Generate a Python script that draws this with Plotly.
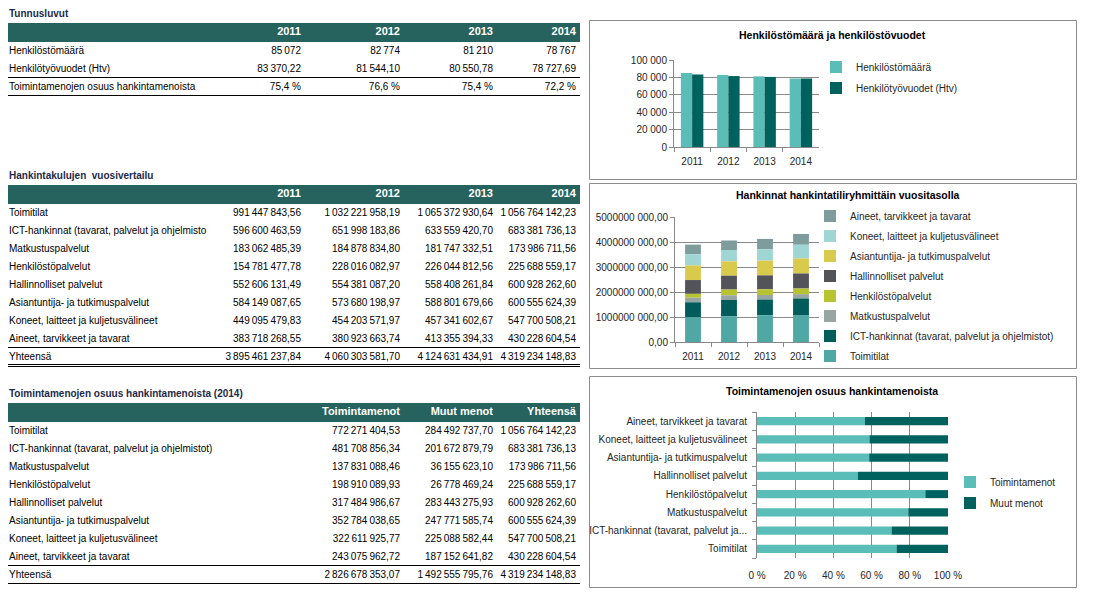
import plotly.graph_objects as go

W, H = 1107, 604
OFF = 8  # the page body offsets the figure by 8 px; layout below is in screen pixels
FONT = "Liberation Sans"
NB = "\u00a0"
TS = "\u2009"  # thin space used as thousands separator

# ---------------- data ----------------
years = ["2011", "2012", "2013", "2014"]

henkilostomaara = [85072, 82774, 81210, 78767]
henkilotyovuodet = [83370.22, 81544.10, 80550.78, 78727.69]
toimintamenojen_osuus_pct = [75.4, 76.6, 75.4, 72.2]
tunnus_labels = ["Henkilöstömäärä", "Henkilötyövuodet (Htv)",
                 "Toimintamenojen osuus hankintamenoista"]

categories = [
    "Toimitilat",
    "ICT-hankinnat (tavarat, palvelut ja ohjelmistot)",
    "Matkustuspalvelut",
    "Henkilöstöpalvelut",
    "Hallinnolliset palvelut",
    "Asiantuntija- ja tutkimuspalvelut",
    "Koneet, laitteet ja kuljetusvälineet",
    "Aineet, tarvikkeet ja tavarat",
]
costs_2011 = [991447843.56, 596600463.59, 183062485.39, 154781477.78,
              552606131.49, 584149087.65, 449095479.83, 383718268.55]
costs_2012 = [1032221958.19, 651998183.86, 184878834.80, 228016082.97,
              554381087.20, 573680198.97, 454203571.97, 380923663.74]
costs_2013 = [1065372930.64, 633559420.70, 181747332.51, 226044812.56,
              558408261.84, 588801679.66, 457341602.67, 413355394.33]
costs_2014 = [1056764142.23, 683381736.13, 173986711.56, 225688559.17,
              600928262.60, 600555624.39, 547700508.21, 430228604.54]

toimintamenot_2014 = [772271404.53, 481708856.34, 137831088.46, 198910089.93,
                      317484986.67, 352784038.65, 322611925.77, 243075962.72]
muut_menot_2014 = [284492737.70, 201672879.79, 36155623.10, 26778469.24,
                   283443275.93, 247771585.74, 225088582.44, 187152641.82]

total_label = "Yhteensä"
share_names = ["Toimintamenot", "Muut menot"]
table_titles = ["Tunnusluvut", "Hankintakulujen" + NB + " vuosivertailu",
                "Toimintamenojen osuus hankintamenoista (2014)"]
chart_titles = ["Henkilöstömäärä ja henkilöstövuodet",
                "Hankinnat hankintatiliryhmittäin vuositasolla",
                "Toimintamenojen osuus hankintamenoista"]

# ---------------- styles ----------------
HEAD = "#27635e"
TITLE_C = "#1c2a4a"
TXT = "#262626"
GRID = "#898989"
C_LIGHT = "#5bbdb7"
C_DARK = "#00625f"
chart2_colors = ["#4fa8a4", "#005c5a", "#97a5a3", "#b8c332",
                 "#535459", "#d9c94c", "#9fd5d2", "#7f9c9c"]


def X(px):
    return (px - OFF) / W


def Y(py):
    return 1 - (py - OFF) / H


def group(int_str, sep=TS):
    parts = []
    s = int_str
    while len(s) > 3:
        parts.insert(0, s[-3:])
        s = s[:-3]
    parts.insert(0, s)
    return sep.join(parts)


def fmt(v, dec=2, sep=TS):
    s = f"{v:.{dec}f}"
    if dec:
        ip, fp = s.split(".")
        return group(ip, sep) + "," + fp
    return group(s, sep)


fig = go.Figure()

# ---------------- tables (text on a hidden screen-pixel axis pair x4/y4) ----------------
HEADER_H, ROW_H = 19, 18
LEFT, RIGHT = 3, 580
LABEL_X = 9
shapes = []
cell_font = dict(family=FONT, size=10, color="black")
head_font = dict(family=FONT, size=11, color="white", weight="bold")


def add_table(title, top, col_right, header_vals, cols, labels, rules):
    fig.add_trace(go.Scatter(x=[LABEL_X], y=[top - 9], mode="text", text=[title],
                             textposition="middle right", xaxis="x4", yaxis="y4",
                             textfont=dict(family=FONT, size=10, color=TITLE_C, weight="bold"),
                             showlegend=False, hoverinfo="skip"))
    shapes.append(dict(type="rect", xref="x4", yref="y4", x0=LEFT, x1=RIGHT, y0=top,
                       y1=top + HEADER_H, fillcolor=HEAD, line=dict(width=0), layer="below"))
    fig.add_trace(go.Scatter(x=col_right, y=[top + HEADER_H / 2] * len(col_right),
                             mode="text", text=header_vals, textposition="middle left",
                             xaxis="x4", yaxis="y4", textfont=head_font,
                             showlegend=False, hoverinfo="skip"))
    rows_y = [top + HEADER_H + ROW_H * i + ROW_H / 2 for i in range(len(labels))]
    fig.add_trace(go.Scatter(x=[LABEL_X] * len(labels), y=rows_y, mode="text", text=labels,
                             textposition="middle right", xaxis="x4", yaxis="y4",
                             textfont=cell_font, showlegend=False, hoverinfo="skip"))
    for xr, col in zip(col_right, cols):
        fig.add_trace(go.Scatter(x=[xr] * len(col), y=rows_y, mode="text", text=col,
                                 textposition="middle left", xaxis="x4", yaxis="y4",
                                 textfont=cell_font, showlegend=False, hoverinfo="skip"))
    for r, dy in rules:
        yy = top + HEADER_H + ROW_H * r + dy
        shapes.append(dict(type="line", xref="x4", yref="y4", x0=LEFT, x1=RIGHT,
                           y0=yy, y1=yy, line=dict(color="black", width=1)))


# Table 1: Tunnusluvut
t1_cols = []
for j in range(4):
    t1_cols.append([fmt(henkilostomaara[j], 0), fmt(henkilotyovuodet[j]),
                    f"{toimintamenojen_osuus_pct[j]:.1f}".replace(".", ",") + NB + "%"])
add_table(table_titles[0], 23, [301, 400, 493, 576], years, t1_cols, tunnus_labels,
          [(2, -0.5), (3, -0.5)])

# Table 2: Hankintakulujen vuosivertailu
by_year = [costs_2011, costs_2012, costs_2013, costs_2014]
t2_cols = [[fmt(v) for v in yv] + [fmt(sum(yv))] for yv in by_year]
t2_labels = [c[:46] for c in categories] + [total_label]
add_table(table_titles[1], 185, [301, 400, 493, 576], years, t2_cols, t2_labels,
          [(8, -0.5), (9, -1.5), (9, 0.5)])

# Table 3: Toimintamenojen osuus (2014)
yht_2014 = [a + b for a, b in zip(toimintamenot_2014, muut_menot_2014)]
t3_cols = [[fmt(v) for v in toimintamenot_2014] + [fmt(sum(toimintamenot_2014))],
           [fmt(v) for v in muut_menot_2014] + [fmt(sum(muut_menot_2014))],
           [fmt(v) for v in yht_2014] + [fmt(sum(yht_2014))]]
add_table(table_titles[2], 403, [400, 493, 576], [share_names[0], share_names[1], total_label],
          t3_cols, categories + [total_label], [(8, -0.5), (9, -0.5)])

# ---------------- Chart 1 ----------------
fig.add_trace(go.Bar(x=years, y=henkilostomaara, name=tunnus_labels[0],
                     marker=dict(color=C_LIGHT, line=dict(width=0)), offset=-0.31, width=0.31,
                     xaxis="x", yaxis="y", legend="legend", legendgroup="g1a"))
fig.add_trace(go.Bar(x=years, y=henkilotyovuodet, name=tunnus_labels[1],
                     marker=dict(color=C_DARK, line=dict(width=0)), offset=0.0, width=0.31,
                     xaxis="x", yaxis="y", legend="legend", legendgroup="g1b"))

# ---------------- Chart 2 (stacked via explicit base; added top-down for legend order) ----------------
bases = []
base = [0.0] * 4
for i in range(len(categories)):
    vals = [yv[i] for yv in by_year]
    bases.append(list(base))
    base = [b + v for b, v in zip(base, vals)]
for i in reversed(range(len(categories))):
    vals = [yv[i] for yv in by_year]
    fig.add_trace(go.Bar(x=years, y=vals, base=bases[i], name=categories[i],
                         marker=dict(color=chart2_colors[i], line=dict(width=0)),
                         offset=-0.22, width=0.44, xaxis="x2", yaxis="y2",
                         legend="legend2", legendgroup=f"g2_{i}"))

# ---------------- Chart 3 ----------------
share_t = [t / s for t, s in zip(toimintamenot_2014, yht_2014)]
share_m = [m / s for m, s in zip(muut_menot_2014, yht_2014)]
fig.add_trace(go.Bar(y=categories, x=share_t, orientation="h", name=share_names[0],
                     marker=dict(color=C_LIGHT, line=dict(width=0)), offset=-0.22, width=0.44,
                     xaxis="x3", yaxis="y3", legend="legend3", legendgroup="g3a"))
fig.add_trace(go.Bar(y=categories, x=share_m, base=share_t, orientation="h", name=share_names[1],
                     marker=dict(color=C_DARK, line=dict(width=0)), offset=-0.22, width=0.44,
                     xaxis="x3", yaxis="y3", legend="legend3", legendgroup="g3b"))

tickfont = dict(family=FONT, size=10, color=TXT)

y1_vals = [0, 20000, 40000, 60000, 80000, 100000]
y2_vals = [0, 1e9, 2e9, 3e9, 4e9, 5e9]
x3_vals = [0, 0.2, 0.4, 0.6, 0.8, 1.0]


def excel_axis(v):
    v = int(v)
    return "0,00" if v == 0 else f"{v // 1000}{NB}{v % 1000:03d},00"


short_cats = [c if len(c) <= 38 else c[:35] + "..." for c in categories]

cat_x = dict(type="category", showline=True, linecolor=GRID, ticks="outside",
             tickson="boundaries", ticklen=4, tickcolor=GRID, showgrid=False,
             ticklabelstandoff=5, tickfont=tickfont, fixedrange=True, automargin=False)
val_y = dict(showline=True, linecolor=GRID, ticks="outside", ticklen=4, tickcolor=GRID,
             showgrid=True, gridcolor=GRID, gridwidth=1, zeroline=False,
             tickfont=tickfont, fixedrange=True, automargin=False)

legend_common = dict(xanchor="left", yanchor="top", bgcolor="rgba(0,0,0,0)",
                     font=dict(family=FONT, size=10, color=TXT), borderwidth=0)

# chart frames
for top, bot in [(20, 179), (183, 368), (376, 587)]:
    shapes.append(dict(type="rect", xref="x4", yref="y4", x0=589.5, x1=1076.5,
                       y0=top + 0.5, y1=bot + 0.5, line=dict(color="#8c8c8c", width=1)))

annotations = []
for txt, x, y in zip(chart_titles, [832, 848, 831.5], [35, 195, 391]):
    annotations.append(dict(text=txt, xref="x4", yref="y4", x=x, y=y,
                            xanchor="center", yanchor="middle", showarrow=False,
                            font=dict(family=FONT, size=10.5, color="black", weight="bold")))

fig.update_layout(
    template="none",
    width=W, height=H, autosize=False,
    margin=dict(l=0, r=0, t=0, b=0, pad=0, autoexpand=False),
    paper_bgcolor="white", plot_bgcolor="rgba(0,0,0,0)",
    barmode="overlay",
    showlegend=True,
    font=dict(family=FONT, size=10, color=TXT),
    xaxis=dict(domain=[X(674), X(819)], anchor="y", range=[-0.5, 3.5], **cat_x),
    yaxis=dict(domain=[Y(147), Y(60)], anchor="x", range=[0, 100000],
               tickvals=y1_vals, ticktext=[fmt(v, 0, NB) for v in y1_vals], **val_y),
    xaxis2=dict(domain=[X(675), X(819)], anchor="y2", range=[-0.5, 3.5], **cat_x),
    yaxis2=dict(domain=[Y(342), Y(217)], anchor="x2", range=[0, 5e9],
                tickvals=y2_vals, ticktext=[excel_axis(v) for v in y2_vals], **val_y),
    xaxis3=dict(domain=[X(757), X(948)], anchor="y3", range=[0, 1], tickvals=x3_vals,
                ticktext=[f"{int(round(v * 100))} %" for v in x3_vals], showgrid=True,
                gridcolor=GRID, showline=False, zeroline=False, ticks="",
                ticklabelstandoff=10, tickfont=tickfont, fixedrange=True, automargin=False),
    yaxis3=dict(domain=[Y(558), Y(412)], anchor="x3", type="category", range=[-0.5, 7.5],
                tickvals=categories, ticktext=short_cats, showline=True, linecolor=GRID,
                ticks="outside", tickson="boundaries", ticklen=4, tickcolor=GRID,
                showgrid=False, ticklabelstandoff=7, tickfont=tickfont, fixedrange=True,
                automargin=False),
    xaxis4=dict(domain=[0, 1], anchor="y4", range=[OFF, W + OFF], visible=False,
                fixedrange=True, automargin=False),
    yaxis4=dict(domain=[0, 1], anchor="x4", range=[H + OFF, OFF], visible=False,
                fixedrange=True, automargin=False),
    legend=dict(x=X(816), y=Y(52.5), tracegroupgap=2, traceorder="grouped", **legend_common),
    legend2=dict(x=X(810), y=Y(201.5), tracegroupgap=1, traceorder="grouped",
                 **legend_common),
    legend3=dict(x=X(950), y=Y(467.5), tracegroupgap=2, traceorder="grouped", **legend_common),
    shapes=shapes,
    annotations=annotations,
)

fig.write_html("out.html")
